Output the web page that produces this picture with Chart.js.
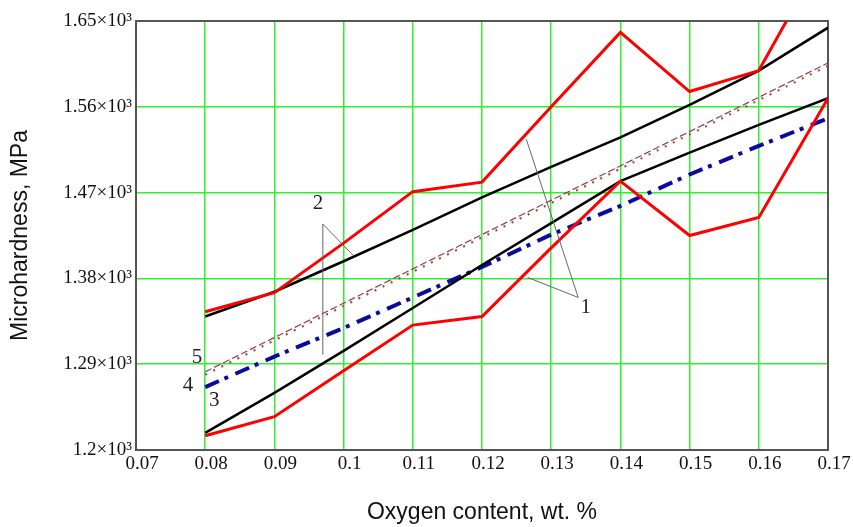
<!DOCTYPE html>
<html>
<head>
<meta charset="utf-8">
<title>Microhardness vs oxygen content</title>
<script src="https://cdn.jsdelivr.net/npm/chart.js@4.4.1/dist/chart.umd.min.js"></script>
<style>
  body { margin: 0; background: #fff; }
  canvas { display: block; }
</style>
</head>
<body>
<canvas id="myChart" width="853" height="527"></canvas>
<script>
// oxygen content, wt. %
const oxygen = [0.08, 0.09, 0.10, 0.11, 0.12, 0.13, 0.14, 0.15, 0.16, 0.17];
// curves 1 (red, upper / lower)
const redUpper = [1345, 1365, 1417, 1471, 1481, 1560, 1638, 1576, 1598, 1728];
const redLower = [1215, 1235, 1283, 1331, 1340, 1412, 1482, 1425, 1444, 1569];
// curves 2 (black, upper / lower)
const blackUpper = [1340, 1366, 1398, 1431, 1465, 1497, 1528, 1562, 1598, 1643];
const blackLower = [1218, 1260, 1304, 1349, 1394, 1438, 1482, 1512, 1541, 1569];
// curve 4 (blue dash-dot)
const blueMid = [1266, 1298, 1328, 1360, 1392, 1426, 1456, 1489, 1519, 1548];
// curves 3 and 5 (straight lines, end points only)
const lineEnds = [0.08, 0.17];
const purpleLine = [1282, 1606];
const brownLine = [1279, 1603];

const xTicks = [0.07, 0.08, 0.09, 0.10, 0.11, 0.12, 0.13, 0.14, 0.15, 0.16, 0.17];
const yTicks = [1200, 1290, 1380, 1470, 1560, 1650];

// annotation labels and leader lines, in data units
const labelText = ['2', '1', '5', '4', '3'];
const labelX = [0.0963, 0.1350, 0.0788, 0.0775, 0.0813];
const labelY = [1459, 1350, 1297, 1268, 1252];
const leaders = [
  [[0.0970, 1437], [0.0970, 1300]],
  [[0.0970, 1437], [0.1014, 1404]],
  [[0.1339, 1360], [0.1264, 1526]],
  [[0.1339, 1360], [0.1266, 1381]]
];

function pts(xs, ys) {
  return xs.map((x, i) => ({x: x, y: ys[i]}));
}

const frame = {
  id: 'frame',
  beforeDatasetsDraw(chart) {
    const {ctx, chartArea: a} = chart;
    ctx.save();
    ctx.strokeStyle = '#555';
    ctx.lineWidth = 2;
    ctx.strokeRect(a.left, a.top, a.right - a.left, a.bottom - a.top);
    ctx.restore();
  },
  afterDatasetsDraw(chart) {
    const {ctx} = chart;
    const xs = chart.scales.x, ys = chart.scales.y;
    ctx.save();
    ctx.strokeStyle = '#666';
    ctx.lineWidth = 1;
    leaders.forEach(l => {
      ctx.beginPath();
      ctx.moveTo(xs.getPixelForValue(l[0][0]), ys.getPixelForValue(l[0][1]));
      ctx.lineTo(xs.getPixelForValue(l[1][0]), ys.getPixelForValue(l[1][1]));
      ctx.stroke();
    });
    ctx.fillStyle = '#222';
    ctx.font = '21px "Liberation Serif"';
    ctx.textAlign = 'center';
    ctx.textBaseline = 'middle';
    labelText.forEach((t, i) => {
      ctx.fillText(t, xs.getPixelForValue(labelX[i]), ys.getPixelForValue(labelY[i]));
    });
    ctx.restore();
  }
};

const ctx = document.getElementById('myChart').getContext('2d');
const chart = new Chart(ctx, {
  type: 'line',
  data: {
    datasets: [
      {data: pts(oxygen, redUpper), borderColor: '#ff0000', borderWidth: 3},
      {data: pts(oxygen, redLower), borderColor: '#ff0000', borderWidth: 3},
      {data: pts(oxygen, blackUpper), borderColor: '#000', borderWidth: 2.5},
      {data: pts(oxygen, blackLower), borderColor: '#000', borderWidth: 2.5},
      {data: pts(oxygen, blueMid), borderColor: '#0a0aa0', borderWidth: 4, borderDash: [15, 6, 4, 8]},
      {data: pts(lineEnds, purpleLine), borderColor: '#993366', borderWidth: 1.2, borderDash: [7, 3]},
      {data: pts(lineEnds, brownLine), borderColor: '#9a5a20', borderWidth: 2.2, borderDash: [2, 7]}
    ]
  },
  options: {
    responsive: false,
    animation: false,
    layout: {padding: {top: 21, right: 25, left: 0, bottom: 0}},
    elements: {point: {radius: 0}, line: {tension: 0}},
    plugins: {legend: {display: false}, tooltip: {enabled: false}},
    scales: {
      x: {
        type: 'linear', min: 0.07, max: 0.17,
        afterBuildTicks: s => { s.ticks = xTicks.map(v => ({value: v})); },
        afterFit: s => { s.height = 77; },
        grid: {color: '#2ef02e', lineWidth: 1.5, drawTicks: false},
        border: {display: false},
        ticks: {
          padding: 3, labelOffset: 6, color: '#111', maxRotation: 0,
          font: {family: 'Liberation Serif', size: 19},
          callback: v => String(parseFloat(v.toFixed(2)))
        },
        title: {
          display: true, text: 'Oxygen content, wt. %', color: '#111',
          font: {family: 'Liberation Sans', size: 23}, padding: {top: 0, bottom: 1}
        }
      },
      y: {
        type: 'linear', min: 1200, max: 1650,
        afterBuildTicks: s => { s.ticks = yTicks.map(v => ({value: v})); },
        afterFit: s => { s.width = 136; },
        grid: {color: '#2ef02e', lineWidth: 1.5, drawTicks: false},
        border: {display: false},
        ticks: {
          padding: 4, color: '#111',
          font: {family: 'Liberation Serif', size: 19},
          callback: v => parseFloat((v / 1000).toFixed(2)) + '\u00d710\u00b3'
        },
        title: {
          display: true, text: 'Microhardness, MPa', color: '#111',
          font: {family: 'Liberation Sans', size: 23}, padding: {top: 7, bottom: 0}
        }
      }
    }
  },
  plugins: [frame]
});
</script>
</body>
</html>
